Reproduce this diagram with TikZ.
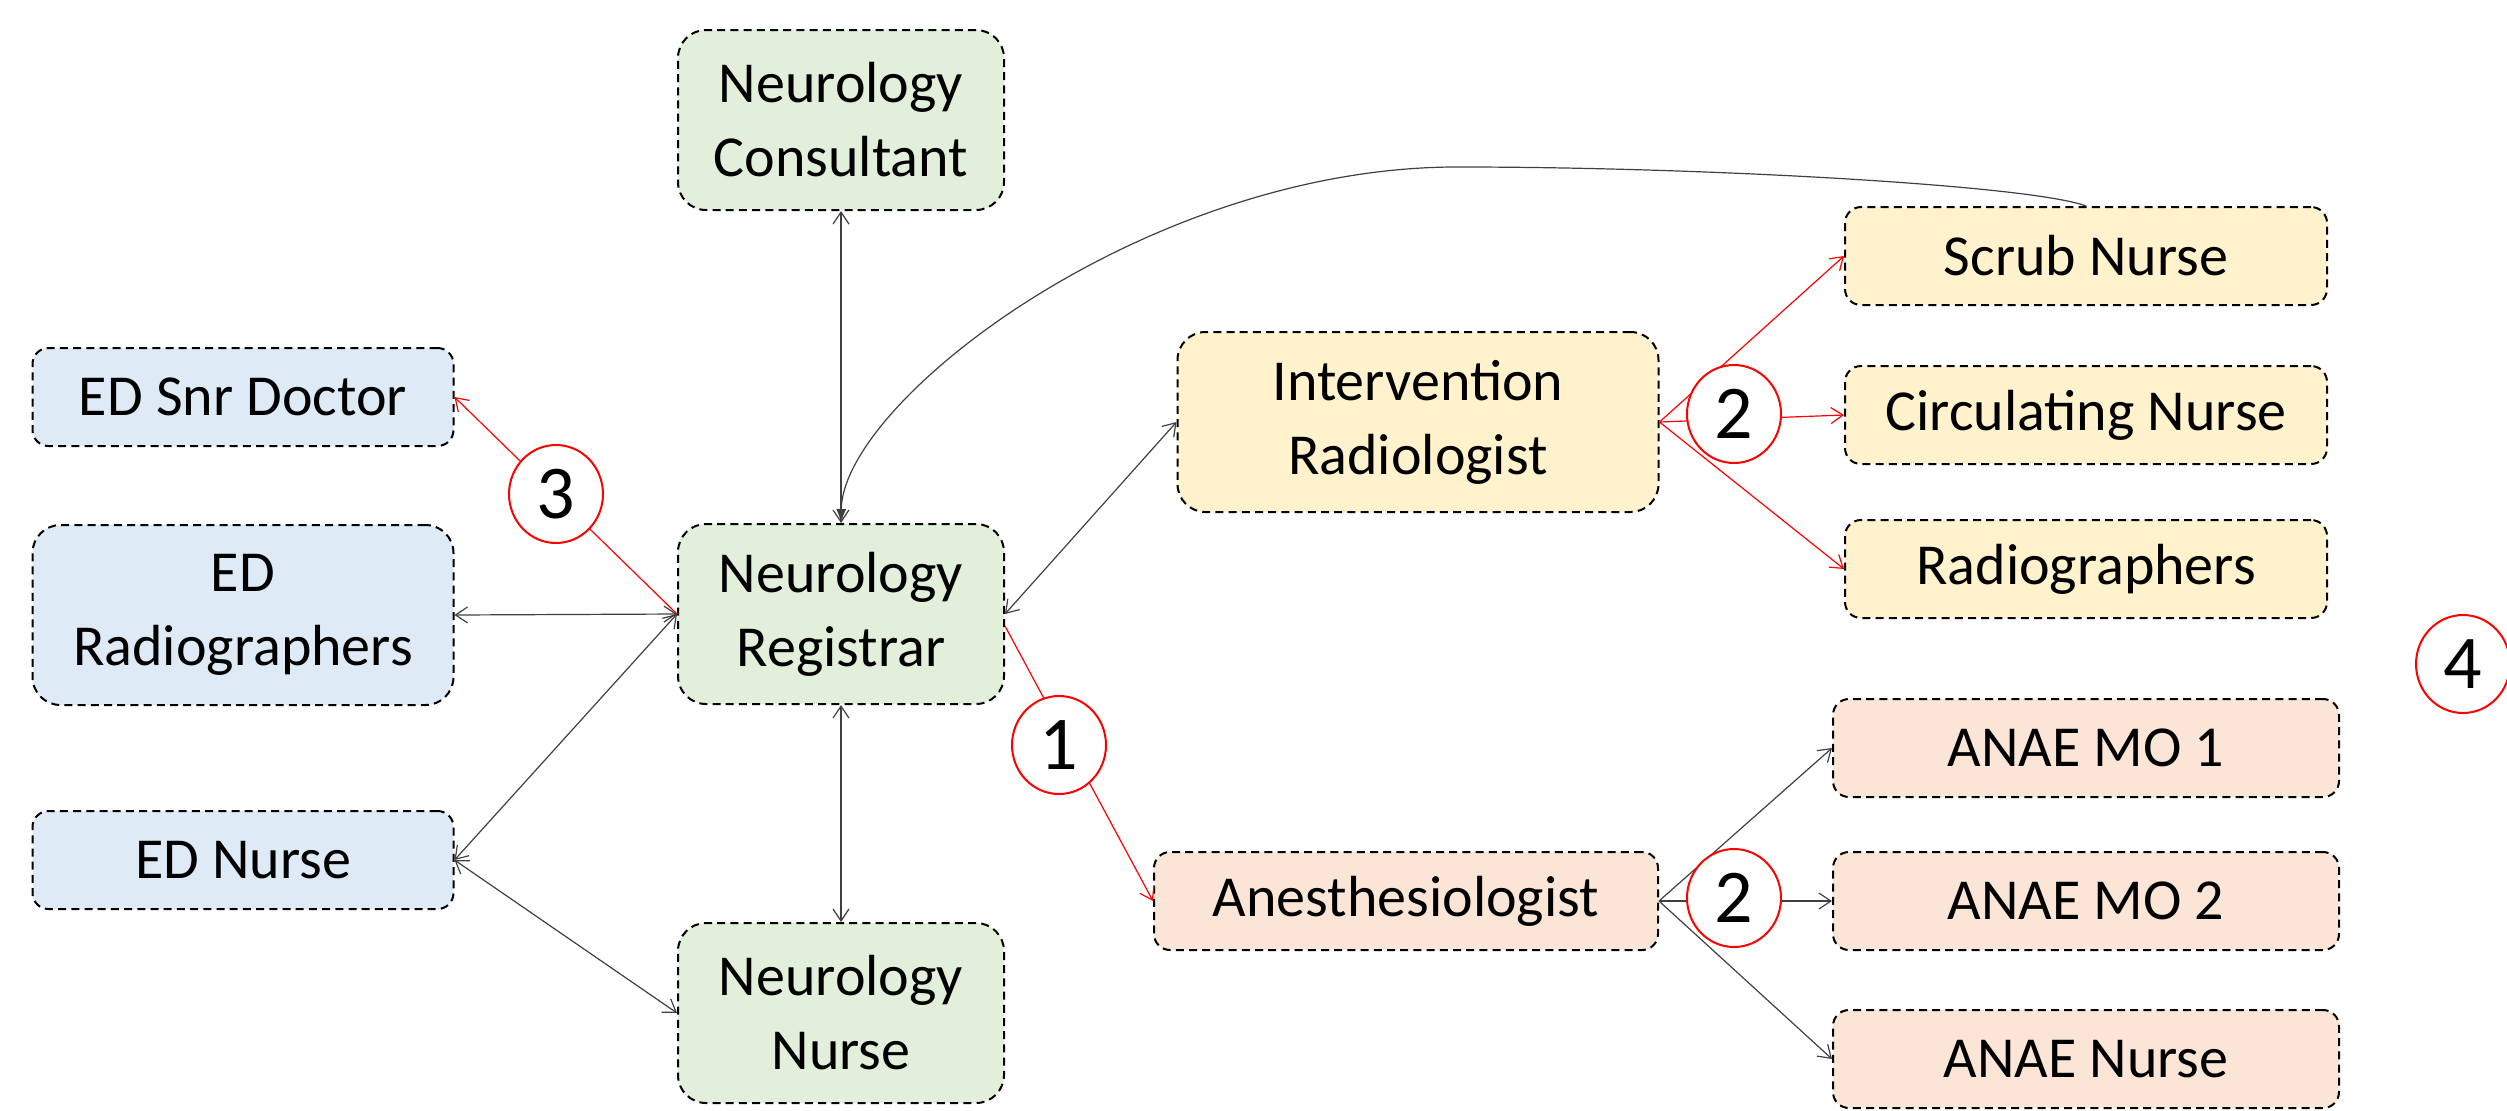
\documentclass[tikz,border=0pt]{standalone}
\usepackage{fontspec}
\setmainfont{Carlito}
\usetikzlibrary{arrows.meta,shapes.geometric,calc}
\definecolor{gfill}{HTML}{E2EFDA}
\definecolor{bfill}{HTML}{DEEBF7}
\definecolor{yfill}{HTML}{FFF2CC}
\definecolor{pfill}{HTML}{FBE5D6}
\begin{document}
\begin{tikzpicture}[x=0.5pt,y=-0.5pt,
  box/.style={draw=black, line width=1pt, dash pattern=on 4pt off 2.6pt, rounded corners=8pt,
    inner sep=0pt, align=center, font=\fontsize{29}{37}\selectfont, text=black},
  tallbox/.style={box, rounded corners=14pt, minimum height=90pt},
  shortbox/.style={box, minimum height=49pt},
  num/.style={ellipse, draw=red, line width=1pt, fill=white, minimum width=47pt,
    minimum height=49pt, inner sep=0pt, font=\fontsize{38}{38}\selectfont},
  conn/.style={draw=black!75, line width=0.6pt},
  rconn/.style={draw=red, line width=0.6pt},
  arr/.style={-{Straight Barb[length=6pt,width=8pt]}},
  darr/.style={{Straight Barb[length=6pt,width=8pt]}-{Straight Barb[length=6pt,width=8pt]}}
]
\useasboundingbox (0,0) rectangle (2507,1110);

% boxes
\node[tallbox, fill=gfill, minimum width=163pt] (cons) at (841,120) {Neurology\\Consultant};
\node[tallbox, fill=gfill, minimum width=163pt] (reg) at (841,614) {Neurology\\Registrar};
\node[tallbox, fill=gfill, minimum width=163pt] (nnur) at (841,1013) {Neurology\\Nurse};

\node[shortbox, fill=bfill, minimum width=210.5pt] (edsnr) at (243,397) {ED Snr Doctor};
\node[tallbox, fill=bfill, minimum width=210.5pt] (edrad) at (243,615) {ED\\Radiographers};
\node[shortbox, fill=bfill, minimum width=210.5pt] (ednur) at (243,860) {ED Nurse};

\node[tallbox, fill=yfill, minimum width=240.5pt] (ir) at (1418,422) {Intervention\\Radiologist};
\node[shortbox, fill=pfill, minimum width=252pt] (anest) at (1406,901) {Anesthesiologist};

\node[shortbox, fill=yfill, minimum width=241pt] (scrub) at (2086,256) {Scrub Nurse};
\node[shortbox, fill=yfill, minimum width=241pt] (circ) at (2086,415) {Circulating Nurse};
\node[shortbox, fill=yfill, minimum width=241pt] (rad) at (2086,569) {Radiographers};

\node[shortbox, fill=pfill, minimum width=253pt] (mo1) at (2086,748) {ANAE MO 1};
\node[shortbox, fill=pfill, minimum width=253pt] (mo2) at (2086,901) {ANAE MO 2};
\node[shortbox, fill=pfill, minimum width=253pt] (anur) at (2086,1059) {ANAE Nurse};

% black connectors
\draw[conn, darr] (cons.south) -- (reg.north);
\draw[conn, darr] (reg.south) -- (nnur.north);
\draw[conn, darr] (reg.west) -- (edrad.east);
\draw[conn, darr] (reg.west) -- (ednur.east);
\draw[conn, darr] (ednur.east) -- (nnur.west);
\draw[conn, darr] (reg.east) -- (ir.west);
\coordinate (peak) at (1461,167);
\draw[conn, -{Latex[length=7pt,width=5pt]}] (scrub.north) .. controls (2030,185) and (1700,167) .. (peak)
  .. controls (1150,165) and (843,400) .. (reg.north);
\draw[conn, arr] (anest.east) -- (mo1.west);
\draw[conn, arr] (anest.east) -- (mo2.west);
\draw[conn, arr] (anest.east) -- (anur.west);

% red connectors
\draw[rconn, arr] ($(reg.east)+(0,12)$) -- (anest.west);
\draw[rconn, arr] (reg.west) -- (edsnr.east);
\draw[rconn, arr] (ir.east) -- (scrub.west);
\draw[rconn, arr] (ir.east) -- (circ.west);
\draw[rconn, arr] (ir.east) -- (rad.west);

% numbered markers
\node[num] (n3) at (556,494) {3};
\node[num] (n1) at (1059,745) {1};
\node[num] (n2a) at (1734,414) {2};
\node[num] (n2b) at (1734,898) {2};
\node[num] (n4) at (2463,664) {4};
\end{tikzpicture}
\end{document}
